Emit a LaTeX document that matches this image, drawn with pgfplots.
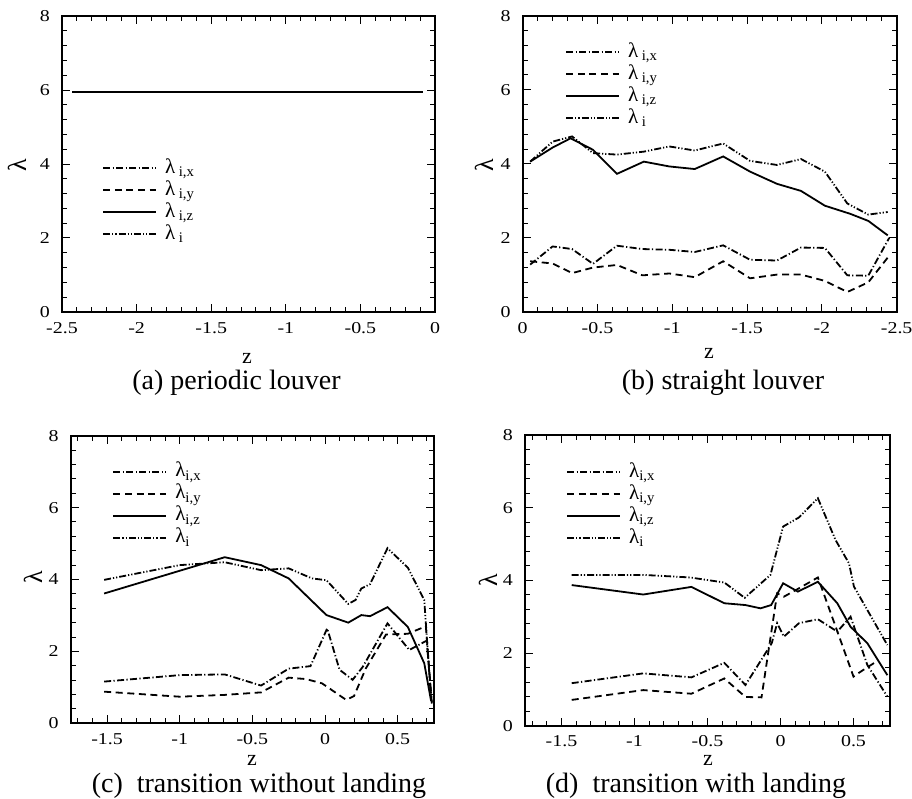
\documentclass[border=0pt]{standalone}
\usepackage{fontspec}
\setmainfont{Liberation Serif}
\newfontfamily\tickfont[FakeStretch=1.2]{Liberation Serif}
\usepackage{pgfplots}
\pgfplotsset{compat=1.18}

\pgfplotsset{
  lx/.style={black, line width=0.9pt, dash pattern=on 3.5pt off 1.2pt on 0.6pt off 1.2pt},
  ly/.style={black, line width=0.9pt, dash pattern=on 3.5pt off 2.3pt},
  lz/.style={black, line width=0.9pt},
  li/.style={black, line width=0.9pt, dash pattern=on 3.5pt off 1pt on 0.6pt off 1pt on 0.6pt off 1pt},
  panel/.style={
    scale only axis, anchor=south west,
    ymin=0, ymax=8, ytick={0,2,4,6,8}, minor y tick num=4,
    tick pos=both, tick align=inside,
    axis line style={line width=0.9pt},
    every tick/.style={black, line width=0.5pt},
    major tick length=4pt, minor tick length=2.5pt,
    /pgf/number format/assume math mode=true,
    tick label style={font=\tickfont\fontsize{8.3}{9}\selectfont},
    xticklabel style={yshift=-1.5pt},
    yticklabel style={xshift=-2.5pt},
    legend cell align=left,
    legend image code/.code={\draw[##1] (0pt,0pt) -- (26.5pt,0pt);},
    legend style={draw=none, fill=none, inner sep=0pt, anchor=north west,
      column sep=3pt, font=\fontsize{10.5}{11}\selectfont,
      nodes={inner sep=1pt, text height=7pt, text depth=2pt}},
  },
}

\begin{document}
\begin{tikzpicture}
\useasboundingbox (0,0) rectangle (456pt,399.5pt);

% (a) periodic louver
\begin{axis}[panel, at={(31pt,243.5pt)}, width=186.5pt, height=148pt,
  xmin=-2.5, xmax=0, xtick={-2.5,-2,...,0}, minor x tick num=4,
  legend style={at={(0.107,0.524)}}]
\addplot[lx] coordinates {(-2.43,0) (-0.08,0)};
\addplot[ly] coordinates {(-2.43,0) (-0.08,0)};
\addplot[lz] coordinates {(-2.43,5.95) (-0.08,5.95)};
\addplot[li] coordinates {(-2.43,5.95) (-0.08,5.95)};
\legend{λ\,\textsubscript{i,x}, λ\,\textsubscript{i,y}, λ\,\textsubscript{i,z}, λ\,\textsubscript{i}}
\end{axis}

% (b) straight louver
\begin{axis}[panel, at={(261.35pt,243.5pt)}, width=187pt, height=148.15pt,
  x dir=reverse, xmin=-2.5, xmax=0, xtick={-2.5,-2,...,0}, minor x tick num=4,
  legend style={at={(0.113,0.9155)}}]
\addplot[lx] coordinates {(-0.05,1.28) (-0.2,1.77) (-0.33,1.70) (-0.47,1.30) (-0.63,1.79)
  (-0.80,1.70) (-0.98,1.68) (-1.15,1.62) (-1.34,1.80) (-1.52,1.41) (-1.70,1.39)
  (-1.86,1.74) (-2.02,1.73) (-2.17,0.99) (-2.31,0.98) (-2.45,2.00)};
\addplot[ly] coordinates {(-0.05,1.37) (-0.2,1.31) (-0.33,1.05) (-0.47,1.20) (-0.63,1.27)
  (-0.80,0.99) (-0.98,1.04) (-1.15,0.94) (-1.34,1.37) (-1.52,0.91) (-1.70,1.01)
  (-1.86,1.01) (-2.02,0.84) (-2.17,0.54) (-2.31,0.80) (-2.45,1.52)};
\addplot[lz] coordinates {(-0.05,4.06) (-0.2,4.44) (-0.32,4.69) (-0.47,4.38) (-0.63,3.73)
  (-0.81,4.06) (-0.98,3.93) (-1.15,3.86) (-1.34,4.20) (-1.52,3.79) (-1.70,3.46)
  (-1.86,3.27) (-2.02,2.87) (-2.19,2.65) (-2.31,2.46) (-2.44,2.07)};
\addplot[li] coordinates {(-0.05,4.06) (-0.2,4.60) (-0.33,4.74) (-0.47,4.29) (-0.63,4.25)
  (-0.81,4.33) (-0.98,4.47) (-1.15,4.36) (-1.34,4.55) (-1.52,4.08) (-1.70,3.97)
  (-1.86,4.13) (-2.02,3.79) (-2.17,2.93) (-2.31,2.63) (-2.44,2.70)};
\legend{λ\,\textsubscript{i,x}, λ\,\textsubscript{i,y}, λ\,\textsubscript{i,z}, λ\,\textsubscript{i}}
\end{axis}

% (c) transition without landing
\begin{axis}[panel, at={(35.35pt,37.85pt)}, width=181.65pt, height=143.8pt,
  xmin=-1.75, xmax=0.75, xtick={-1.5,-1,...,0.5},
  minor xtick={-1.7,-1.6,...,0.71},
  legend style={at={(0.114,0.9137)}}]
\addplot[lx] coordinates {(-1.52,1.16) (-1.0,1.34) (-0.69,1.36) (-0.44,1.05) (-0.25,1.52)
  (-0.10,1.59) (0.015,2.64) (0.10,1.49) (0.19,1.21) (0.26,1.57) (0.43,2.78)
  (0.58,2.04) (0.70,2.30) (0.735,0.55)};
\addplot[ly] coordinates {(-1.52,0.88) (-1.0,0.74) (-0.69,0.79) (-0.44,0.86) (-0.25,1.27)
  (-0.13,1.23) (-0.02,1.11) (0.146,0.65) (0.20,0.76) (0.28,1.52) (0.42,2.47)
  (0.57,2.49) (0.694,2.70) (0.735,0.58)};
\addplot[lz] coordinates {(-1.52,3.61) (-0.69,4.62) (-0.44,4.40) (-0.25,4.03) (0.01,3.01)
  (0.16,2.80) (0.25,3.01) (0.31,2.98) (0.43,3.23) (0.57,2.68) (0.683,1.67) (0.73,0.62)};
\addplot[li] coordinates {(-1.52,3.99) (-1.0,4.40) (-0.69,4.48) (-0.44,4.26) (-0.25,4.31)
  (-0.09,4.03) (0.01,3.98) (0.16,3.32) (0.21,3.43) (0.25,3.75) (0.31,3.87) (0.43,4.87)
  (0.57,4.33) (0.683,3.43) (0.73,0.65)};
\legend{λ\textsubscript{i,x}, λ\textsubscript{i,y}, λ\textsubscript{i,z}, λ\textsubscript{i}}
\end{axis}

% (d) transition with landing
\begin{axis}[panel, at={(262.5pt,36.65pt)}, width=182.5pt, height=145.35pt,
  xmin=-1.75, xmax=0.75, xtick={-1.5,-1,...,0.5},
  minor xtick={-1.7,-1.6,...,0.71},
  legend style={at={(0.112,0.911)}}]
\addplot[lx] coordinates {(-1.43,1.17) (-0.94,1.44) (-0.61,1.33) (-0.385,1.73) (-0.24,1.12)
  (-0.06,2.27) (-0.023,2.82) (0.023,2.45) (0.126,2.82) (0.256,2.93) (0.389,2.59)
  (0.48,3.00) (0.595,1.67) (0.732,0.80)};
\addplot[ly] coordinates {(-1.43,0.71) (-0.94,0.98) (-0.61,0.88) (-0.385,1.30) (-0.24,0.79)
  (-0.13,0.78) (-0.023,3.64) (0.023,3.55) (0.126,3.78) (0.256,4.08) (0.38,2.70)
  (0.50,1.35) (0.55,1.49) (0.67,1.80)};
\addplot[lz] coordinates {(-1.43,3.87) (-0.94,3.61) (-0.61,3.82) (-0.385,3.37) (-0.24,3.32)
  (-0.137,3.23) (-0.064,3.32) (0.018,3.92) (0.119,3.69) (0.256,3.96) (0.389,3.37)
  (0.48,2.72) (0.595,2.27) (0.732,1.39)};
\addplot[li] coordinates {(-1.43,4.15) (-0.94,4.15) (-0.62,4.08) (-0.385,3.94) (-0.245,3.52)
  (-0.069,4.15) (0.018,5.48) (0.126,5.73) (0.256,6.26) (0.377,5.11) (0.469,4.47)
  (0.503,3.83) (0.732,2.22)};
\legend{λ\textsubscript{i,x}, λ\textsubscript{i,y}, λ\textsubscript{i,z}, λ\textsubscript{i}}
\end{axis}

% axis titles and captions
\begin{scope}[every node/.style={inner sep=0pt}]
\node[font=\fontsize{11}{12}\selectfont] at (123.5pt,220.5pt) {z};
\node[font=\fontsize{13}{14}\selectfont, rotate=90] at (8.5pt,317pt) {λ};
\node[font=\fontsize{14}{15}\selectfont] at (118.25pt,208pt) {(a) periodic louver};

\node[font=\fontsize{11}{12}\selectfont] at (354.5pt,223pt) {z};
\node[font=\fontsize{13}{14}\selectfont, rotate=90] at (242pt,317pt) {λ};
\node[font=\fontsize{14}{15}\selectfont] at (361.5pt,208pt) {(b) straight louver};

\node[font=\fontsize{11}{12}\selectfont] at (126pt,19.3pt) {z};
\node[font=\fontsize{13}{14}\selectfont, rotate=90] at (16.5pt,111pt) {λ};
\node[font=\fontsize{14}{15}\selectfont] at (129.5pt,6.6pt) {(c)\ \ transition without landing};

\node[font=\fontsize{11}{12}\selectfont] at (354pt,19.3pt) {z};
\node[font=\fontsize{13}{14}\selectfont, rotate=90] at (244pt,109.5pt) {λ};
\node[font=\fontsize{14}{15}\selectfont] at (348pt,6.6pt) {(d)\ \ transition with landing};
\end{scope}
\end{tikzpicture}
\end{document}
